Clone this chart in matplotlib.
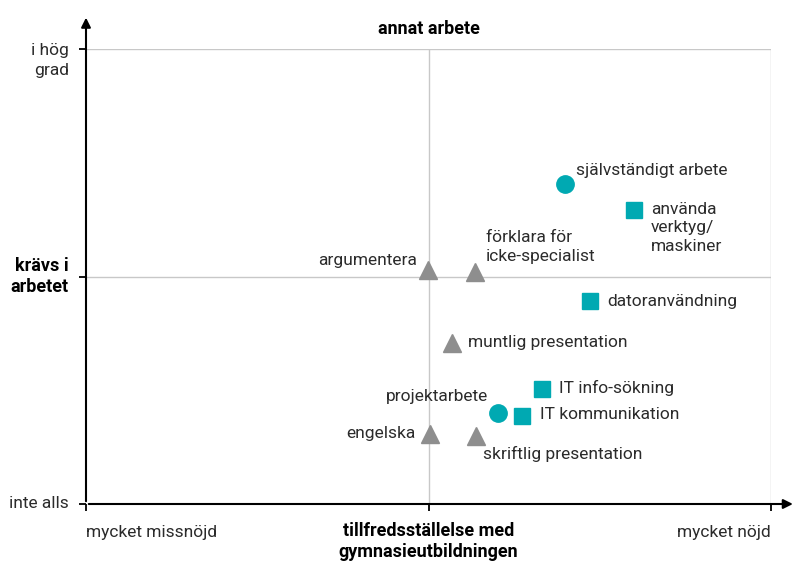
import matplotlib.pyplot as plt

plt.rcParams['font.family'] = ['Roboto', 'DejaVu Sans']

# data: (x = tillfredsställelse, y = krävs i arbetet), both 0..1
labels = ['självständigt arbete', 'använda\nverktyg/\nmaskiner', 'datoranvändning',
          'argumentera', 'förklara för\nicke-specialist', 'muntlig presentation',
          'IT info-sökning', 'IT kommunikation', 'projektarbete',
          'engelska', 'skriftlig presentation']
x_vals = [0.699, 0.800, 0.736, 0.499, 0.568, 0.534, 0.666, 0.636, 0.601, 0.502, 0.569]
y_vals = [0.703, 0.646, 0.446, 0.514, 0.510, 0.354, 0.253, 0.193, 0.200, 0.154, 0.149]
kinds = ['circle', 'square', 'square', 'tri', 'tri', 'tri',
         'square', 'square', 'circle', 'tri', 'tri']

teal = '#00a9b2'
grey = '#8e8e8e'
markers = {'circle': ('o', teal, 12.5), 'square': ('s', teal, 11), 'tri': ('^', grey, 13)}

# label offsets in points (dx, dy, ha, va)
offsets = [(8, 10, 'left', 'center'), (12, 6, 'left', 'top'), (12, 0, 'left', 'center'),
           (-8, 7, 'right', 'center'), (8, 6, 'left', 'bottom'), (12, 0, 'left', 'center'),
           (12, 1, 'left', 'center'), (13, 1, 'left', 'center'), (-7, 12, 'right', 'center'),
           (-10, 0, 'right', 'center'), (5, -13, 'left', 'center')]

W, H = 795, 563
fig = plt.figure(figsize=(W / 100, H / 100), dpi=100)
ax = fig.add_axes([86 / W, (H - 504) / H, 685 / W, 455 / H])
ax.set_xlim(0, 1)
ax.set_ylim(0, 1)
for s in ax.spines.values():
    s.set_visible(False)

# grid lines
for v in [0.5, 1.0]:
    ax.axhline(v, color='#c8c8c8', lw=1, zorder=0)
    ax.axvline(v, color='#c8c8c8', lw=1, zorder=0)

# axes with arrows
ax.annotate('', xy=(1.036, 0), xytext=(0, 0), xycoords='axes fraction',
            arrowprops=dict(arrowstyle='-|>', color='black', lw=1.5, mutation_scale=14),
            annotation_clip=False)
ax.annotate('', xy=(0, 1.075), xytext=(0, 0), xycoords='axes fraction',
            arrowprops=dict(arrowstyle='-|>', color='black', lw=1.5, mutation_scale=14),
            annotation_clip=False)

ax.set_xticks([0, 0.5, 1])
ax.set_yticks([0, 0.5, 1])
ax.set_xticklabels([])
ax.set_yticklabels([])
ax.tick_params(axis='both', length=5, width=1.3, color='black')

fs = 12.5
txt = '#2b2b2b'
for xv, yv, k, lab, (dx, dy, ha, va) in zip(x_vals, y_vals, kinds, labels, offsets):
    m, c, s = markers[k]
    ax.plot(xv, yv, marker=m, color=c, markersize=s, linestyle='none', zorder=3,
            clip_on=False)
    ax.annotate(lab, (xv, yv), xytext=(dx, dy), textcoords='offset points',
                ha=ha, va=va, fontsize=fs, color=txt, linespacing=1.3)

# axis texts
ax.text(0.5, 1.045, 'annat arbete', transform=ax.transAxes, ha='center', va='center',
        fontsize=13, fontweight='bold')
ax.text(-0.025, 1.013, 'i hög\ngrad', transform=ax.transAxes, ha='right', va='top',
        fontsize=fs, color=txt, linespacing=1.4)
ax.text(-0.025, 0.5, 'krävs i\narbetet', transform=ax.transAxes, ha='right', va='center',
        fontsize=13, fontweight='bold', linespacing=1.2)
ax.text(-0.025, 0.0, 'inte alls', transform=ax.transAxes, ha='right', va='center',
        fontsize=fs, color=txt)
ax.text(0.0, -0.062, 'mycket missnöjd', transform=ax.transAxes, ha='left', va='center',
        fontsize=fs, color=txt)
ax.text(1.0, -0.062, 'mycket nöjd', transform=ax.transAxes, ha='right', va='center',
        fontsize=fs, color=txt)
ax.text(0.5, -0.04, 'tillfredsställelse med\ngymnasieutbildningen', transform=ax.transAxes,
        ha='center', va='top', fontsize=13, fontweight='bold', linespacing=1.2)

fig.savefig('out.png', dpi=100)
